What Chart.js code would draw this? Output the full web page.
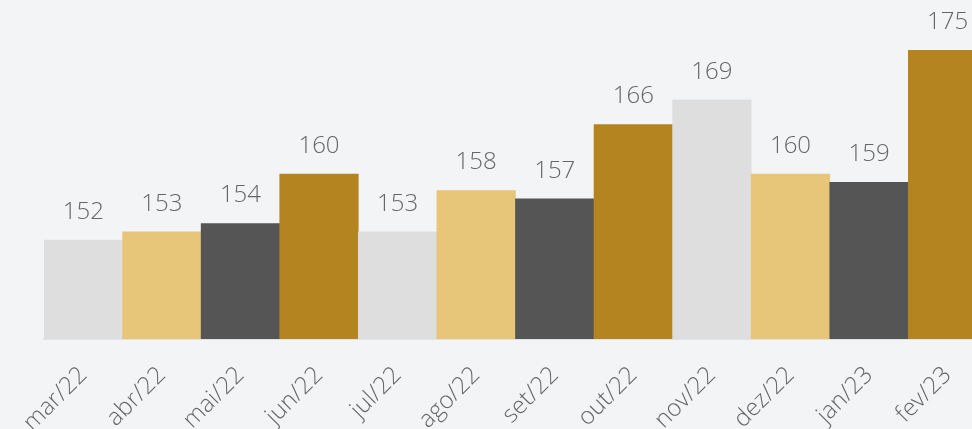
<!DOCTYPE html>
<html>
<head>
<meta charset="utf-8">
<script src="https://cdn.jsdelivr.net/npm/chart.js@4"></script>
<style>
  html, body { margin: 0; padding: 0; background: #f3f4f6; overflow: hidden; }
  #wrap { width: 990px; height: 429px; }
</style>
</head>
<body>
<div id="wrap"><canvas id="bars"></canvas></div>
<script>
const months = ["mar/22","abr/22","mai/22","jun/22","jul/22","ago/22","set/22","out/22","nov/22","dez/22","jan/23","fev/23"];
const values = [152, 153, 154, 160, 153, 158, 157, 166, 169, 160, 159, 175];
const palette = ["#dedede", "#e8c679", "#555555", "#b48420"];

// numbers above the bars
const valueLabels = {
    id: 'valueLabels',
    afterDatasetsDraw(chart) {
        const ctx = chart.ctx;
        const meta = chart.getDatasetMeta(0);
        ctx.save();
        ctx.font = '300 24px "Open Sans"';
        ctx.fillStyle = '#666666';
        ctx.textAlign = 'center';
        ctx.textBaseline = 'middle';
        meta.data.forEach(function(bar, i) {
            ctx.fillText(values[i], bar.x, bar.y - 28);
        });
        ctx.restore();
    }
};

var ctx = document.getElementById("bars").getContext('2d');
new Chart(ctx, {
    type: 'bar',
    data: {
        labels: months,
        datasets: [{
            data: values,
            backgroundColor: months.map((m, i) => palette[i % 4]),
            borderWidth: 0,
            categoryPercentage: 1,
            barPercentage: 1
        }]
    },
    options: {
        responsive: true,
        maintainAspectRatio: false,
        animation: false,
        layout: { padding: { top: 9, left: 44, right: 0, bottom: 0 } },
        plugins: { legend: { display: false }, tooltip: { enabled: false } },
        scales: {
            y: { display: false, min: 140, max: 180 },
            x: {
                grid: { display: false, drawTicks: false },
                border: { display: true, color: '#e2e2e2', width: 2 },
                ticks: {
                    color: '#666666',
                    font: { family: 'Open Sans', size: 24, weight: 300 },
                    minRotation: 45,
                    maxRotation: 45,
                    padding: 22
                },
                afterFit(scale) { scale.height = 90; }
            }
        }
    },
    plugins: [valueLabels]
});
</script>
</body>
</html>
